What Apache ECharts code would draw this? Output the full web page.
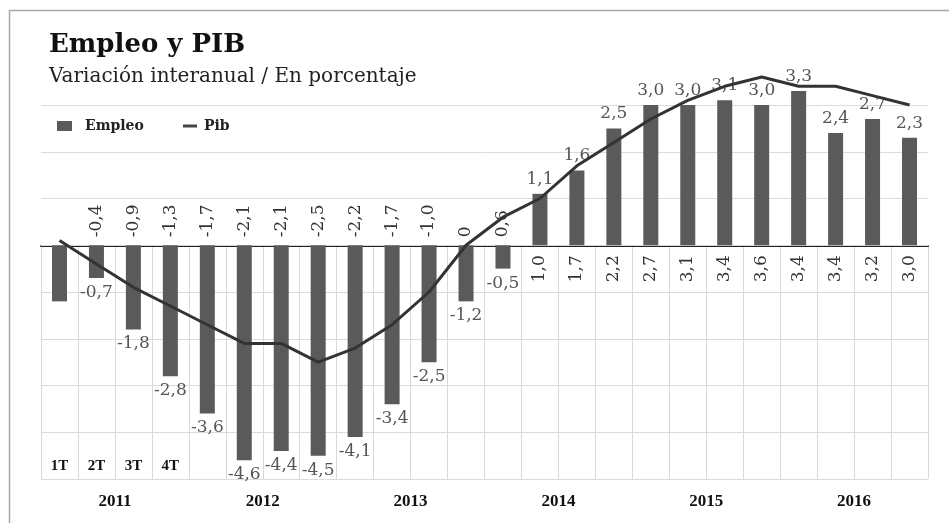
<!DOCTYPE html>
<html>
<head>
<meta charset="utf-8">
<script src="https://cdn.jsdelivr.net/npm/echarts@6/dist/echarts.min.js"></script>
<style>
  html, body { margin: 0; padding: 0; background: #fff; }
  #chart { width: 949px; height: 523px; }
</style>
</head>
<body>
<div id="chart"></div>
<script>
// Quarterly year-on-year change (%) of employment and GDP, 2011-2016
const years = ['2011', '2012', '2013', '2014', '2015', '2016'];
const quarters = ['1T', '2T', '3T', '4T'];
const empleo = [-1.2, -0.7, -1.8, -2.8, -3.6, -4.6, -4.4, -4.5, -4.1, -3.4, -2.5, -1.2,
                -0.5, 1.1, 1.6, 2.5, 3.0, 3.0, 3.1, 3.0, 3.3, 2.4, 2.7, 2.3];
const pib = [0.1, -0.4, -0.9, -1.3, -1.7, -2.1, -2.1, -2.5, -2.2, -1.7, -1.0, 0,
             0.6, 1.0, 1.7, 2.2, 2.7, 3.1, 3.4, 3.6, 3.4, 3.4, 3.2, 3.0];
const categories = years.flatMap(y => quarters.map(q => q + ' ' + y));

const SERIF = 'DejaVu Serif';
const fmt = v => v === 0 ? '0' : v.toFixed(1).replace('.', ',');

// plot frame
const W = 949, H = 523;
const GRID_LEFT = 41, GRID_RIGHT = 21, GRID_TOP = 105, GRID_BOTTOM = 44;
const Y_MIN = -5, Y_MAX = 3;
const plotH = H - GRID_TOP - GRID_BOTTOM;
const zeroY = GRID_TOP + plotH * Y_MAX / (Y_MAX - Y_MIN);

const empleoData = empleo.map((v, i) => ({
  value: v,
  label: { show: i > 0, position: v < 0 ? 'bottom' : 'top' }
}));

// GDP figures are written along the zero line, turned on their side
const pibLabelData = pib.map((v, i) => {
  const above = v < 1;
  return {
    value: v,
    label: {
      show: i > 0,
      position: above ? (v > 0 ? 'insideBottom' : 'top') : 'bottom',
      align: above ? 'left' : 'right',
      distance: above ? 8 : 10
    }
  };
});

const chart = echarts.init(document.getElementById('chart'), null, { renderer: 'canvas' });

chart.setOption({
  backgroundColor: '#fff',
  animation: false,
  title: [
    {
      text: 'Empleo y PIB', left: 44, top: 27,
      textStyle: { fontFamily: SERIF, fontWeight: 'bold', fontSize: 26, color: '#111' }
    },
    {
      text: 'Variación interanual / En porcentaje', left: 44, top: 62,
      textStyle: { fontFamily: SERIF, fontWeight: 'normal', fontSize: 20, color: '#222' }
    }
  ],
  legend: [
    {
      data: ['Empleo'], left: 52, top: 114, icon: 'rect', itemWidth: 15, itemHeight: 10,
      textStyle: { fontFamily: SERIF, fontWeight: 'bold', fontSize: 14, color: '#222', padding: [0, 0, 0, 8] }
    },
    {
      data: ['Pib'], left: 178, top: 114, icon: 'rect', itemWidth: 14, itemHeight: 3,
      textStyle: { fontFamily: SERIF, fontWeight: 'bold', fontSize: 14, color: '#222', padding: [0, 0, 0, 2] }
    }
  ],
  grid: [
    { left: GRID_LEFT, right: GRID_RIGHT, top: GRID_TOP, bottom: GRID_BOTTOM },
    { left: GRID_LEFT, right: GRID_RIGHT, top: zeroY, bottom: GRID_BOTTOM }
  ],
  xAxis: [
    {
      type: 'category', gridIndex: 0, data: categories,
      axisLine: { onZero: true, lineStyle: { color: '#222', width: 2 } },
      axisTick: { show: false }, axisLabel: { show: false }, splitLine: { show: false }
    },
    {
      type: 'category', gridIndex: 1, data: categories, position: 'bottom',
      axisLine: { show: true, lineStyle: { color: '#d6d6d6', width: 1 } },
      axisTick: { show: false },
      splitLine: { show: true, interval: 0, lineStyle: { color: '#d9d9d9', width: 1 } },
      axisLabel: {
        show: true, inside: true, interval: 0, margin: 5,
        fontFamily: 'Liberation Serif', fontWeight: 'bold', fontSize: 15, color: '#111',
        formatter: v => v.endsWith(years[0]) ? v.split(' ')[0] : ''
      }
    },
    {
      type: 'category', gridIndex: 1, data: years, position: 'bottom',
      axisLine: { show: false }, axisTick: { show: false }, splitLine: { show: false },
      axisLabel: {
        show: true, interval: 0, margin: 14,
        fontFamily: 'Liberation Serif', fontWeight: 'bold', fontSize: 17, color: '#111'
      }
    }
  ],
  yAxis: [
    {
      type: 'value', gridIndex: 0, min: Y_MIN, max: Y_MAX, interval: 1,
      axisLine: { show: false }, axisTick: { show: false }, axisLabel: { show: false },
      splitLine: { show: true, lineStyle: { color: '#dcdcdc', width: 1 } }
    },
    {
      type: 'value', gridIndex: 1, min: Y_MIN, max: 0, show: false,
      splitLine: { show: false }
    }
  ],
  graphic: [
    { type: 'line', shape: { x1: 9.5, y1: 10, x2: 9.5, y2: H }, style: { stroke: '#a8a8a8', lineWidth: 1.5 } },
    { type: 'line', shape: { x1: 9, y1: 10.5, x2: W, y2: 10.5 }, style: { stroke: '#a8a8a8', lineWidth: 1.5 } }
  ],
  series: [
    {
      name: 'Empleo', type: 'bar', xAxisIndex: 0, yAxisIndex: 0,
      data: empleoData, barWidth: 15, clip: false,
      itemStyle: { color: '#5a5a5a' },
      label: {
        show: true, distance: 6, formatter: p => fmt(p.value),
        fontFamily: SERIF, fontSize: 17, color: '#555'
      },
      z: 2
    },
    {
      name: 'Pib valores', type: 'bar', xAxisIndex: 0, yAxisIndex: 0,
      data: pibLabelData, barWidth: 15, barGap: '-100%', clip: false,
      itemStyle: { color: 'rgba(0,0,0,0)' },
      label: {
        show: true, rotate: 90, verticalAlign: 'middle', formatter: p => fmt(p.value),
        fontFamily: SERIF, fontSize: 17, color: '#333'
      },
      silent: true, z: 2
    },
    {
      name: 'Pib', type: 'line', xAxisIndex: 0, yAxisIndex: 0,
      data: pib, clip: false, showSymbol: false, symbol: 'none',
      lineStyle: { color: '#333', width: 3 },
      itemStyle: { color: '#444' },
      z: 4
    }
  ]
});
</script>
</body>
</html>
